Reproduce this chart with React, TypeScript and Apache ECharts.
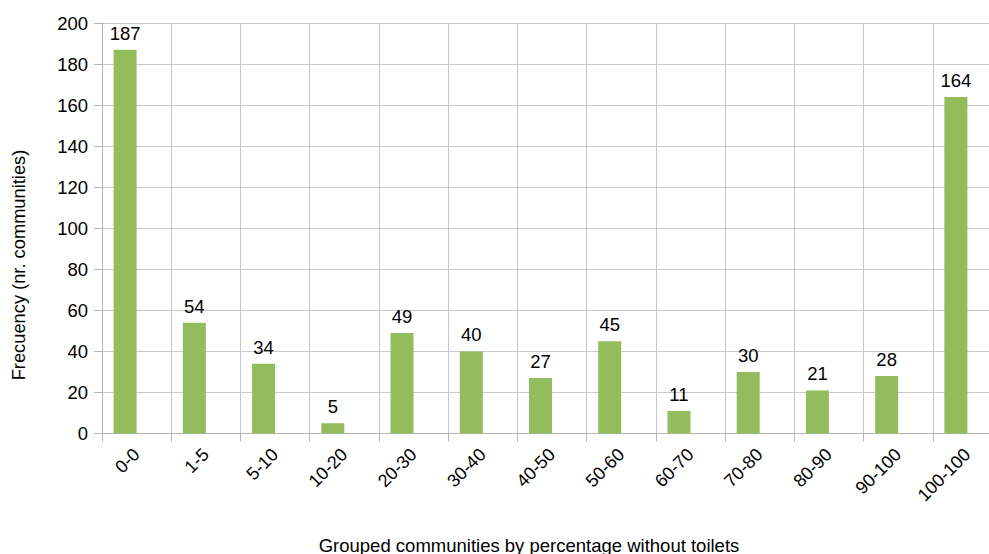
import React, { useEffect, useRef } from "react";
import * as echarts from "echarts";

const categories = ["0-0", "1-5", "5-10", "10-20", "20-30", "30-40", "40-50", "50-60", "60-70", "70-80", "80-90", "90-100", "100-100"];
const frequency = [187, 54, 34, 5, 49, 40, 27, 45, 11, 30, 21, 28, 164];
const emptySeries = categories.map(() => null);
const yTicks = { min: 0, max: 200, interval: 20 };

const FONT = "'Liberation Sans', Arial, sans-serif";

export default function App() {
  const ref = useRef<HTMLDivElement>(null);
  useEffect(() => {
    const chart = echarts.init(ref.current!, null, { renderer: "svg" });
    chart.setOption({
      animation: false,
      textStyle: { fontFamily: FONT },
      grid: { left: 102, right: 8, top: 23, bottom: 120.5, containLabel: false },
      xAxis: {
        type: "category",
        data: categories,
        axisLine: { lineStyle: { color: "#b3b3b3", width: 1 } },
        axisTick: { show: true, length: 8, lineStyle: { color: "#b3b3b3" } },
        splitLine: { show: true, lineStyle: { color: "#c8c8c8", width: 1 } },
        axisLabel: { rotate: 45, fontSize: 18, color: "#000", margin: 18, fontFamily: FONT, interval: 0 },
      },
      yAxis: {
        type: "value",
        min: yTicks.min,
        max: yTicks.max,
        interval: yTicks.interval,
        axisLine: { show: true, lineStyle: { color: "#b3b3b3", width: 1 } },
        axisTick: { show: true, length: 8, lineStyle: { color: "#b3b3b3" } },
        splitLine: { show: true, lineStyle: { color: "#c8c8c8", width: 1 } },
        axisLabel: { fontSize: 18.5, color: "#000", margin: 14, fontFamily: FONT },
      },
      graphic: [
        {
          type: "text",
          x: 529,
          y: 545,
          style: {
            text: "Grouped communities by percentage without toilets",
            font: `18.5px ${FONT}`,
            fill: "#000",
            textAlign: "center",
            textVerticalAlign: "middle",
          },
        },
        {
          type: "text",
          x: 18,
          y: 265,
          rotation: Math.PI / 2,
          style: {
            text: "Frecuency (nr. communities)",
            font: `18.3px ${FONT}`,
            fill: "#000",
            textAlign: "center",
            textVerticalAlign: "middle",
          },
        },
      ],
      series: [
        {
          type: "bar",
          data: frequency,
          barWidth: 23,
          barGap: "0%",
          itemStyle: { color: "#93bd5c" },
          label: { show: true, position: "top", distance: 7, fontSize: 18.5, color: "#000", fontFamily: FONT },
        },
        {
          type: "bar",
          data: emptySeries,
          barWidth: 23,
          barGap: "0%",
          itemStyle: { color: "#93bd5c" },
        },
      ],
    });
    return () => chart.dispose();
  }, []);
  return (
    <div style={{ position: "fixed", left: 0, top: 0, width: 989, height: 554, overflow: "hidden", background: "#fff" }}>
      <div ref={ref} style={{ width: 1010, height: 554 }} />
    </div>
  );
}
